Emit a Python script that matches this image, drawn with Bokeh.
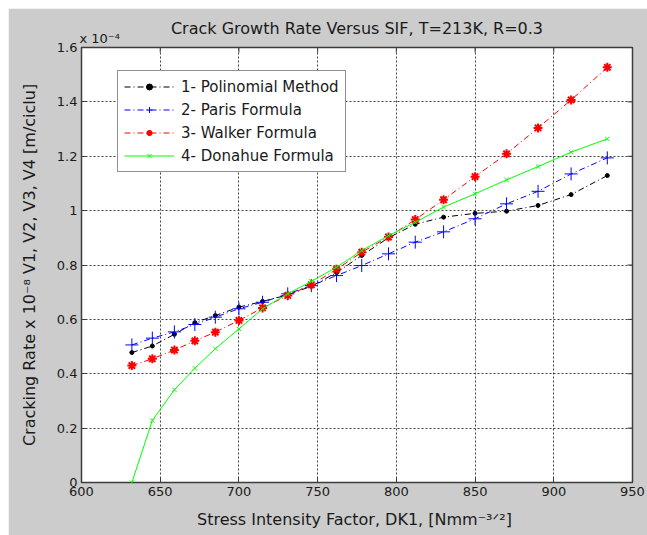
import math
from bokeh.plotting import figure
from bokeh.models import Legend, LegendItem, FixedTicker, Range1d, Title
from bokeh.embed import file_html
from bokeh.resources import INLINE

# ---------------- data ----------------
dk1 = [632, 645, 659, 672, 685, 700, 715, 731, 746, 762, 778, 795, 812, 830, 850, 870, 890, 911, 934]
v1_polinomial = [0.478, 0.502, 0.545, 0.588, 0.614, 0.645, 0.666, 0.690, 0.722, 0.772, 0.835, 0.900,
                 0.950, 0.976, 0.990, 0.998, 1.019, 1.059, 1.129]
v2_paris = [0.506, 0.531, 0.554, 0.581, 0.608, 0.639, 0.663, 0.694, 0.724, 0.761, 0.798, 0.841,
            0.884, 0.922, 0.970, 1.025, 1.071, 1.135, 1.194]
v3_walker = [0.430, 0.455, 0.487, 0.521, 0.553, 0.596, 0.642, 0.688, 0.727, 0.784, 0.847, 0.903,
             0.967, 1.040, 1.125, 1.209, 1.304, 1.407, 1.527]
v4_donahue = [0.0, 0.228, 0.341, 0.420, 0.492, 0.565, 0.639, 0.694, 0.740, 0.792, 0.853, 0.908,
              0.957, 1.013, 1.062, 1.113, 1.162, 1.215, 1.264]

series_labels = ["1- Polinomial Method", "2- Paris Formula", "3- Walker Formula", "4- Donahue Formula"]
x_ticks = [600, 650, 700, 750, 800, 850, 900, 950]
y_ticks = [0, 0.2, 0.4, 0.6, 0.8, 1, 1.2, 1.4, 1.6]
y_tick_labels = ["0", "0.2", "0.4", "0.6", "0.8", "1", "1.2", "1.4", "1.6"]

title_text = "Crack Growth Rate Versus SIF, T=213K, R=0.3"
multiplier_text = "x 10\u207b\u2074"
xlabel_text = "Stress Intensity Factor, DK1,  [Nmm\u207b\u00b3\u141f\u00b2]"
ylabel_text = "Cracking Rate x 10\u207b\u2078 V1, V2, V3, V4 [m/ciclu]"

FONT = "DejaVu Sans"
TXT = "#1a1a1a"
BG = "#cccccc"
EDGE = "#3c3c3c"

x_lo, x_hi = x_ticks[0], x_ticks[-1]
y_lo, y_hi = y_ticks[0], y_ticks[-1]

p = figure(width=639, height=527, output_backend="svg", toolbar_location=None,
           x_range=Range1d(x_lo, x_hi), y_range=Range1d(y_lo, y_hi),
           min_border_left=73, min_border_right=15, min_border_top=39, min_border_bottom=53,
           margin=(8, 0, 0, 8))
p.background_fill_color = "white"
p.border_fill_color = BG
p.outline_line_color = EDGE
p.outline_line_width = 1.5

p.xaxis.ticker = FixedTicker(ticks=x_ticks)
p.yaxis.ticker = FixedTicker(ticks=y_ticks)
p.yaxis.major_label_overrides = {t: l for t, l in zip(y_ticks, y_tick_labels)}

for ax in (p.xaxis[0], p.yaxis[0]):
    ax.axis_line_color = None
    ax.major_tick_in = 5
    ax.major_tick_out = 0
    ax.major_tick_line_color = EDGE
    ax.minor_tick_line_color = None
    ax.major_label_text_font = FONT
    ax.major_label_text_font_size = "13px"
    ax.major_label_text_color = TXT
    ax.major_label_standoff = 4
    ax.axis_label_text_font = FONT
    ax.axis_label_text_font_size = "16px"
    ax.axis_label_text_font_style = "normal"
    ax.axis_label_text_color = TXT

p.xaxis.axis_label = xlabel_text
p.xaxis.axis_label_standoff = 11
p.yaxis.axis_label = ylabel_text
p.yaxis.axis_label_standoff = 15

# inward tick marks on the top and right edges of the box
p.ray(x=x_ticks, y=[y_hi] * len(x_ticks), length=5, length_units="screen",
      angle=-math.pi / 2, line_color=EDGE, line_width=1)
p.ray(x=[x_hi] * len(y_ticks), y=y_ticks, length=5, length_units="screen",
      angle=math.pi, line_color=EDGE, line_width=1)

for g in (p.xgrid[0], p.ygrid[0]):
    g.grid_line_color = "#404040"
    g.grid_line_dash = "2 2"
    g.grid_line_width = 1

dash = "6 3 1 3"
l1 = p.line(dk1, v1_polinomial, line_color="black", line_dash=dash, line_width=1)
s1 = p.scatter(dk1, v1_polinomial, marker="circle", size=4, color="black")
l2 = p.line(dk1, v2_paris, line_color="blue", line_dash=dash, line_width=1)
s2 = p.scatter(dk1, v2_paris, marker="cross", size=13, line_color="blue", line_width=1)
l3 = p.line(dk1, v3_walker, line_color="red", line_dash=dash, line_width=1)
s3 = p.scatter(dk1, v3_walker, marker="asterisk", size=9, line_color="red", line_width=2)
l4 = p.line(dk1, v4_donahue, line_color="#00ff00", line_width=1)
s4 = p.scatter(dk1, v4_donahue, marker="x", size=6, line_color="#00ff00", line_width=1)

legend = Legend(items=[LegendItem(label=series_labels[0], renderers=[l1, s1]),
                       LegendItem(label=series_labels[1], renderers=[l2, s2]),
                       LegendItem(label=series_labels[2], renderers=[l3, s3]),
                       LegendItem(label=series_labels[3], renderers=[l4, s4])],
                location=(36, 310))
legend.label_text_font = FONT
legend.label_text_font_size = "15px"
legend.label_text_color = TXT
legend.glyph_width = 50
legend.glyph_height = 15
legend.label_height = 19
legend.spacing = 4
legend.padding = 6
legend.margin = 0
legend.label_standoff = 7
legend.border_line_color = "#222222"
legend.border_line_width = 1
legend.background_fill_color = "white"
legend.background_fill_alpha = 1
p.add_layout(legend, "center")

p.title.text = title_text
p.title.align = "center"
p.title.text_font = FONT
p.title.text_font_size = "16px"
p.title.text_font_style = "normal"
p.title.text_color = TXT
p.title.standoff = -23

mult = Title(text=multiplier_text, align="left", text_font=FONT, text_font_size="13px",
             text_font_style="normal", text_color=TXT, standoff=4, offset=-2)
p.add_layout(mult, "above")

open("out.html", "w").write(file_html(p, INLINE))
